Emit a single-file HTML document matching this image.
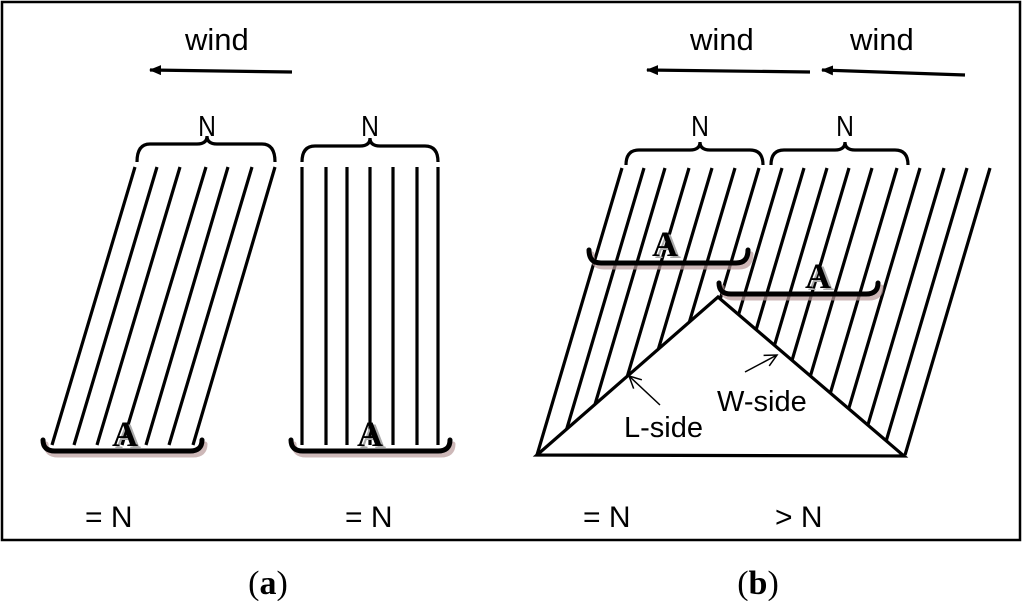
<!DOCTYPE html>
<html><head><style>html,body{margin:0;padding:0;background:#fff}svg{display:block}</style></head>
<body>
<svg width="1024" height="601" viewBox="0 0 1024 601" xmlns="http://www.w3.org/2000/svg">
<defs>
<marker id="ah" markerWidth="12" markerHeight="10" refX="11" refY="5" orient="auto" markerUnits="userSpaceOnUse">
<path d="M0,0 L12,5 L0,10 z" fill="#000"/></marker>
<marker id="oa" markerWidth="16" markerHeight="16" refX="14" refY="8" orient="auto" markerUnits="userSpaceOnUse">
<path d="M2,2 L14,8 L2,14" fill="none" stroke="#000" stroke-width="1.5"/></marker>
</defs>
<rect x="2" y="2" width="1018" height="538" fill="none" stroke="#000" stroke-width="2.5"/>
<g font-family="Liberation Sans, DejaVu Sans, sans-serif" fill="#000">
<text x="185" y="50" font-size="31">wind</text>
<text x="690" y="50" font-size="31">wind</text>
<text x="850" y="50" font-size="31">wind</text>
<text x="207" y="136" font-size="29" text-anchor="middle" transform="translate(207 0) scale(0.85 1) translate(-207 0)">N</text>
<text x="370" y="136" font-size="29" text-anchor="middle" transform="translate(370 0) scale(0.85 1) translate(-370 0)">N</text>
<text x="700" y="136" font-size="29" text-anchor="middle" transform="translate(700 0) scale(0.85 1) translate(-700 0)">N</text>
<text x="845" y="136" font-size="29" text-anchor="middle" transform="translate(845 0) scale(0.85 1) translate(-845 0)">N</text>
<text x="85" y="527" font-size="30">= N</text>
<text x="345" y="527" font-size="30">= N</text>
<text x="583" y="527" font-size="30">= N</text>
<text x="775" y="527" font-size="30">&gt; N</text>
</g>
<g stroke="#000" stroke-width="3.2" fill="none">
<line x1="292" y1="72" x2="150" y2="70" marker-end="url(#ah)"/>
<line x1="810" y1="72" x2="647" y2="70" marker-end="url(#ah)"/>
<line x1="965" y1="75" x2="822" y2="70" marker-end="url(#ah)"/>
<line x1="135" y1="167" x2="52" y2="445"/>
<line x1="157" y1="167" x2="74" y2="445"/>
<line x1="180" y1="167" x2="97" y2="445"/>
<line x1="206" y1="167" x2="122" y2="445"/>
<line x1="228" y1="167" x2="146" y2="445"/>
<line x1="252" y1="167" x2="169" y2="445"/>
<line x1="275" y1="167" x2="193" y2="445"/>
<line x1="302" y1="167" x2="302" y2="445"/>
<line x1="326" y1="167" x2="326" y2="445"/>
<line x1="347" y1="167" x2="347" y2="445"/>
<line x1="370" y1="167" x2="370" y2="445"/>
<line x1="393" y1="167" x2="393" y2="445"/>
<line x1="417" y1="167" x2="417" y2="445"/>
<line x1="438" y1="167" x2="438" y2="445"/>
<path d="M137,162 Q137,144 150,144 L197,144 Q207,144 207,136 Q207,144 217,144 L262,144 Q275,144 275,162"/>
<path d="M302,162 Q302,146 315,146 L360,146 Q370,146 370,138 Q370,146 380,146 L425,146 Q438,146 438,162"/>
<path d="M626,165 Q626,150 639,150 L690,150 Q700,150 700,142 Q700,150 710,150 L750,150 Q763,150 763,165"/>
<path d="M771,165 Q771,150 784,150 L835,150 Q845,150 845,142 Q845,150 855,150 L895,150 Q908,150 908,165"/>
<line x1="622" y1="168" x2="537" y2="455"/>
<line x1="644" y1="168" x2="559" y2="455"/>
<line x1="665" y1="168" x2="580" y2="455"/>
<line x1="689" y1="168" x2="604" y2="455"/>
<line x1="712" y1="168" x2="627" y2="455"/>
<line x1="735" y1="168" x2="650" y2="455"/>
<line x1="759" y1="168" x2="674" y2="455"/>
<line x1="782" y1="168" x2="697" y2="455"/>
<line x1="804" y1="168" x2="719" y2="455"/>
<line x1="827" y1="168" x2="742" y2="455"/>
<line x1="849" y1="168" x2="764" y2="455"/>
<line x1="872" y1="168" x2="787" y2="455"/>
<line x1="897" y1="168" x2="812" y2="455"/>
<line x1="920" y1="168" x2="835" y2="455"/>
<line x1="944" y1="168" x2="859" y2="455"/>
<line x1="967" y1="168" x2="882" y2="455"/>
<line x1="990" y1="168" x2="905" y2="455"/>
</g>
<polygon points="537,455 718,297 904,456" fill="#fff" stroke="#000" stroke-width="3.2" stroke-linejoin="miter"/>
<g font-family="Liberation Sans, DejaVu Sans, sans-serif" fill="#000" font-size="29">
<text x="624" y="437">L-side</text>
<text x="717" y="411">W-side</text>
</g>
<g stroke="#000" stroke-width="1.5" fill="none">
<line x1="660" y1="405" x2="629" y2="376" marker-end="url(#oa)"/>
<line x1="745" y1="372" x2="777" y2="355" marker-end="url(#oa)"/>
</g>
<g fill="none" stroke-linecap="round">
<g stroke="#b89a9a" stroke-width="5" opacity="0.7" transform="translate(3,4)">
<path d="M43,440 Q43,451 55,451 L190,451 Q202,451 202,440"/>
<path d="M291,440 Q291,451 303,451 L438,451 Q450,451 450,440"/>
<path d="M589,250 Q589,263 601,263 L736,263 Q748,263 748,250"/>
<path d="M719,283 Q719,294 731,294 L866,294 Q878,294 878,283"/>
</g>
<g stroke="#000" stroke-width="5">
<path d="M43,440 Q43,451 55,451 L190,451 Q202,451 202,440"/>
<path d="M291,440 Q291,451 303,451 L438,451 Q450,451 450,440"/>
<path d="M589,250 Q589,263 601,263 L736,263 Q748,263 748,250"/>
<path d="M719,283 Q719,294 731,294 L866,294 Q878,294 878,283"/>
</g>
</g>
<g font-family="Liberation Serif, serif" font-weight="bold" font-size="36" text-anchor="middle">
<g fill="#aaa" transform="translate(3,2)">
<text x="125" y="446">A</text><text x="370" y="446">A</text><text x="665" y="256">A</text><text x="818" y="288">A</text>
</g>
<g fill="#000">
<text x="125" y="446">A</text><text x="370" y="446">A</text><text x="665" y="256">A</text><text x="818" y="288">A</text>
</g>
</g>
<g font-family="Liberation Serif, serif" font-size="34" text-anchor="middle">
<text x="268" y="594">(<tspan font-weight="bold">a</tspan>)</text>
<text x="758" y="594">(<tspan font-weight="bold">b</tspan>)</text>
</g>
</svg>
</body></html>
